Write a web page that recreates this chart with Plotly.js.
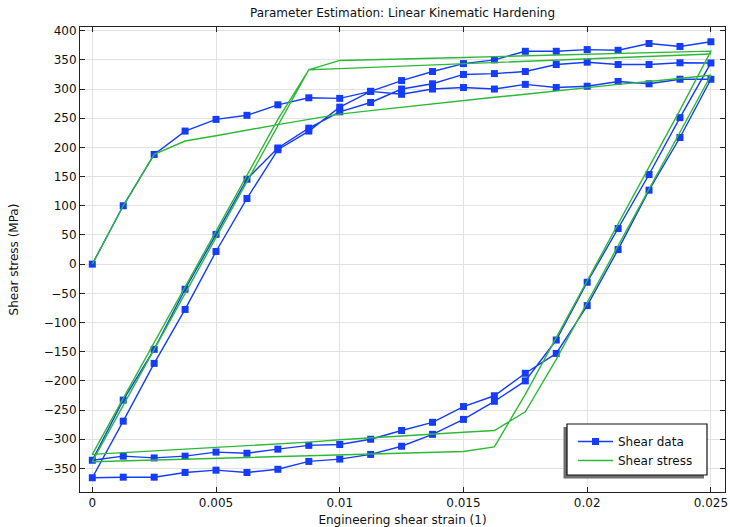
<!DOCTYPE html>
<html>
<head>
<meta charset="utf-8">
<script src="https://cdn.plot.ly/plotly-3.0.1.min.js"></script>
<style>
html,body{margin:0;padding:0;background:#fff;}
#chart{width:730px;height:527px;}
</style>
</head>
<body>
<div id="chart"></div>
<script>
// Strain grid (engineering shear strain, 1)
const strainGrid = [0, 0.00125, 0.0025, 0.00375, 0.005, 0.00625, 0.0075, 0.00875, 0.01, 0.01125,
  0.0125, 0.01375, 0.015, 0.01625, 0.0175, 0.01875, 0.02, 0.02125, 0.0225, 0.02375, 0.025];

// Shear data (MPa): loading branches go k0..k20 (or k1..k20), unloading branches go k19..k0
const dataLoad1   = [0, 100, 188, 228, 248, 255, 273, 285, 284, 296, 291, 300, 302.6, 300, 308, 302.6, 304.8, 313, 309, 316.8, 316.8];
const dataUnload1 = [217, 126.7, 25, -71, -153, -187, -225.5, -244, -271, -285, -300, -309, -310.5, -317, -324, -322, -329, -332, -329, -336];
const dataLoad2   = [-233, -146, -43, 51, 145.5, 199, 233, 261, 277, 300, 309, 325, 326.5, 330, 342, 346, 342, 342, 345, 344.7];
const dataUnload2 = [251, 153.6, 61, -31, -130, -200, -235, -266, -291.6, -312, -326, -334, -338, -351.5, -357, -353, -357, -365, -365, -366];
const dataLoad3   = [-269, -170, -77.6, 21.7, 112.5, 196, 228, 269, 296, 314.5, 330, 343.6, 350, 364.7, 364.7, 367.6, 366.4, 378, 373, 381];

// Shear stress model (MPa)
const modelLoad1   = [0, 100, 188, 211, 220, 230, 239, 248, 257, 263, 269, 275, 281, 286, 291, 297, 303, 308, 313, 318, 323.6];
const modelUnload1 = [226, 129, 31, -66, -163, -253, -285, -288, -291, -294.5, -298, -301, -305, -308, -311, -314, -317, -320, -323, -326];
const modelLoad2   = [-230, -135, -39, 56, 152, 248, 333, 349, 350, 351.5, 353, 354, 355.5, 357, 358, 359.5, 361, 362, 363.5, 365];
const modelUnload2 = [264, 166, 69, -28, -126, -223, -313, -321, -322.5, -324, -325.5, -327, -328.5, -330, -331.5, -333, -334.5, -336, -337, -338.5];
const modelLoad3   = [-242, -146, -50, 46.5, 142, 238, 333, 335, 337, 339, 341, 343.5, 345.5, 347.5, 349.5, 351.5, 353.5, 356, 358, 360];

const xTicks = [0, 0.005, 0.01, 0.015, 0.02, 0.025];
const xTickText = ["0", "0.005", "0.01", "0.015", "0.02", "0.025"];

const up = strainGrid;
const down = strainGrid.slice(0, 20).reverse();
const upFrom1 = strainGrid.slice(1);
const xPath = [].concat(up, down, upFrom1, down, upFrom1);
const yData = [].concat(dataLoad1, dataUnload1, dataLoad2, dataUnload2, dataLoad3);
const yModel = [].concat(modelLoad1, modelUnload1, modelLoad2, modelUnload2, modelLoad3);

const blue = 'rgb(20,60,250)';
const green = 'rgb(45,185,55)';
const font = 'DejaVu Sans, sans-serif';

const traces = [
  {x: xPath, y: yData, name: 'Shear data', type: 'scatter', mode: 'lines+markers',
   line: {color: blue, width: 1.4}, marker: {symbol: 'square', size: 7, color: blue}},
  {x: xPath, y: yModel, name: 'Shear stress', type: 'scatter', mode: 'lines',
   line: {color: green, width: 1.4}}
];

const axisCommon = {
  showline: true, linecolor: '#222', linewidth: 1, mirror: 'ticks',
  ticks: 'inside', ticklen: 5, tickcolor: '#222', tickwidth: 1,
  showgrid: true, gridcolor: '#e2e2e2', gridwidth: 1, zeroline: false,
  tickfont: {family: font, size: 12, color: '#111'}
};

// plot-area geometry (pixels) used to place the legend frame
const M = {l: 80, r: 5, t: 27, b: 35};
const PW = 730 - M.l - M.r, PH = 527 - M.t - M.b;
const px = v => (v - M.l) / PW;
const py = v => 1 - (v - M.t) / PH;

const layout = {
  width: 730, height: 527,
  margin: {l: M.l, r: M.r, t: M.t, b: M.b, pad: 0},
  paper_bgcolor: '#fff', plot_bgcolor: '#fff',
  font: {family: font, size: 12, color: '#111'},
  title: {text: 'Parameter Estimation: Linear Kinematic Hardening', font: {family: font, size: 12, color: '#111'},
          x: 0.5, xref: 'paper', y: 0.976, yref: 'container', yanchor: 'middle'},
  xaxis: Object.assign({}, axisCommon, {
    range: [-0.000497, 0.02557], tickmode: 'array', tickvals: xTicks, ticktext: xTickText,
    title: {text: 'Engineering shear strain (1)', font: {family: font, size: 12, color: '#111'}, standoff: 7}
  }),
  yaxis: Object.assign({}, axisCommon, {
    range: [-390.4, 406.3], tick0: 0, dtick: 50,
    title: {text: 'Shear stress (MPa)', font: {family: font, size: 12, color: '#111'}, standoff: 22}
  }),
  showlegend: true,
  legend: {x: px(573), y: py(427), xanchor: 'left', yanchor: 'top', bgcolor: 'rgba(0,0,0,0)',
           borderwidth: 0, font: {family: font, size: 12, color: '#111'},
           itemwidth: 35, tracegroupgap: 0},
  shapes: [
    {type: 'rect', xref: 'paper', yref: 'paper', x0: px(563.5), x1: px(704), y0: py(478.5), y1: py(427),
     fillcolor: '#6f6f6f', line: {width: 0}, layer: 'above'},
    {type: 'rect', xref: 'paper', yref: 'paper', x0: px(567), x1: px(707), y0: py(475), y1: py(424),
     fillcolor: '#ffffff', line: {color: '#111', width: 1.2}, layer: 'above'}
  ]
};

Plotly.newPlot('chart', traces, layout, {displayModeBar: false, staticPlot: true});
</script>
</body>
</html>
